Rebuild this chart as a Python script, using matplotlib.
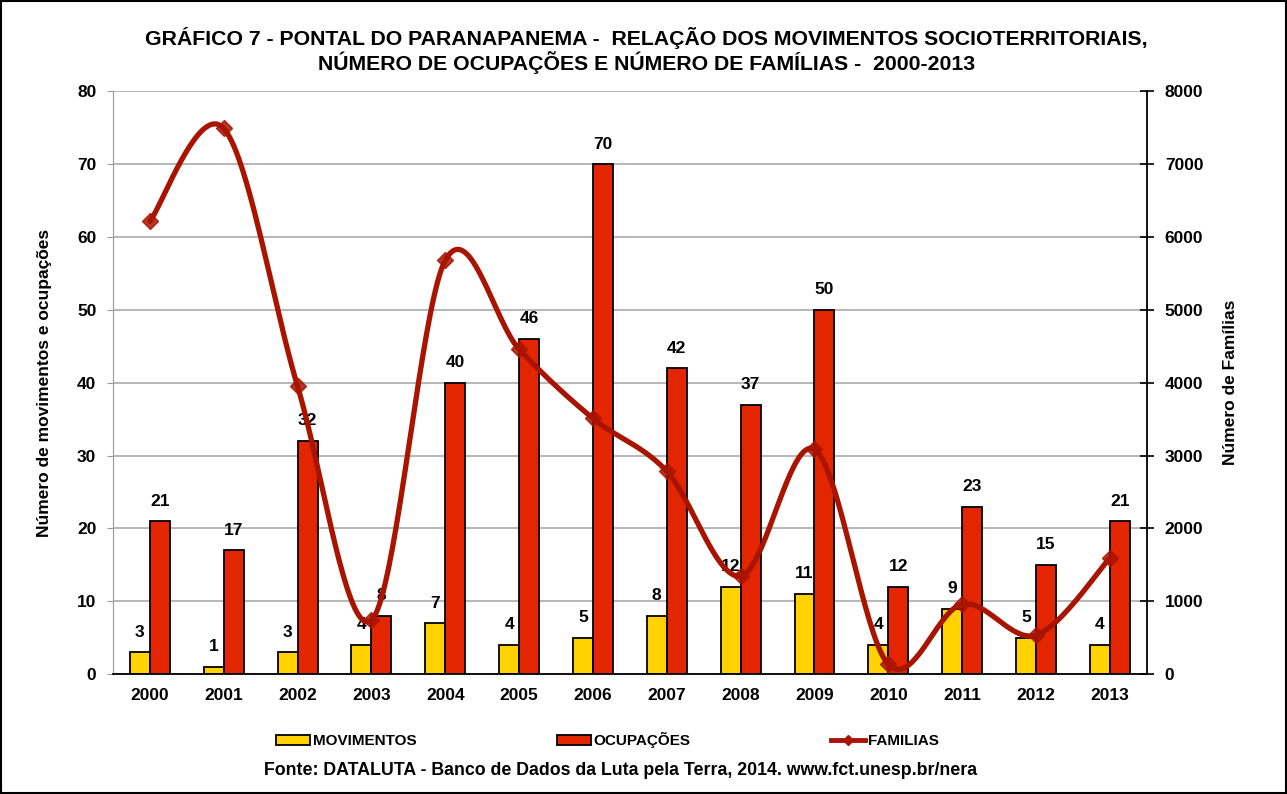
import numpy as np
import matplotlib
matplotlib.use('Agg')
import matplotlib.pyplot as plt
from matplotlib.patches import Rectangle
from matplotlib.lines import Line2D
from matplotlib.patches import Patch

plt.rcParams['font.family'] = ['Liberation Sans', 'DejaVu Sans']
plt.rcParams['font.weight'] = 'bold'

# data
anos = ['2000', '2001', '2002', '2003', '2004', '2005', '2006',
        '2007', '2008', '2009', '2010', '2011', '2012', '2013']
movimentos = [3, 1, 3, 4, 7, 4, 5, 8, 12, 11, 4, 9, 5, 4]
ocupacoes = [21, 17, 32, 8, 40, 46, 70, 42, 37, 50, 12, 23, 15, 21]
familias = [6216, 7490, 3950, 740, 5680, 4460, 3510, 2785, 1345, 3085, 135, 960, 535, 1590]

COR_MOV = '#FFD200'
COR_OCU = '#E32500'
COR_FAM = '#A81400'


def suaviza(x, y, n=40):
    # curva tipo Excel (Catmull-Rom)
    x = np.asarray(x, float)
    y = np.asarray(y, float)
    px = np.concatenate([[x[0]], x, [x[-1]]])
    py = np.concatenate([[y[0]], y, [y[-1]]])
    xs, ys = [], []
    t = np.linspace(0, 1, n)
    for i in range(1, len(px) - 2):
        p0 = np.array([px[i], py[i]])
        p3 = np.array([px[i + 1], py[i + 1]])
        c1 = p0 + (np.array([px[i + 1], py[i + 1]]) - np.array([px[i - 1], py[i - 1]])) / 6
        c2 = p3 - (np.array([px[i + 2], py[i + 2]]) - np.array([px[i], py[i]])) / 6
        b = ((1 - t) ** 3)[:, None] * p0 + (3 * (1 - t) ** 2 * t)[:, None] * c1 \
            + (3 * (1 - t) * t ** 2)[:, None] * c2 + (t ** 3)[:, None] * p3
        xs.extend(b[:, 0])
        ys.extend(b[:, 1])
    return np.array(xs), np.array(ys)


fig = plt.figure(figsize=(12.87, 7.94), dpi=100)
ax = fig.add_axes([0.0878, 0.151, 0.8032, 0.734])

x = np.arange(len(anos))
w = 0.27
b1 = ax.bar(x - w / 2, movimentos, w, color=COR_MOV, edgecolor='black', linewidth=1.3, zorder=2)
b2 = ax.bar(x + w / 2, ocupacoes, w, color=COR_OCU, edgecolor='black', linewidth=1.3, zorder=2)

for bars in (b1, b2):
    for b in bars:
        ax.annotate(f'{int(b.get_height())}', (b.get_x() + b.get_width() / 2, b.get_height()),
                    xytext=(0, 9), textcoords='offset points', ha='center', va='bottom',
                    fontsize=12.5, fontweight='bold', zorder=5)

ax.set_xlim(-0.5, len(anos) - 0.5)
ax.set_ylim(0, 80)
ax.set_yticks(range(0, 81, 10))
ax.set_xticks(x)
ax.set_xticklabels(anos)
ax.tick_params(axis='x', length=0, labelsize=12.5, pad=10)
ax.tick_params(axis='y', labelsize=12.5, color='#999999', length=4, pad=8)
ax.grid(axis='y', color='#aaaaaa', linewidth=1.2, zorder=0)
ax.set_axisbelow(True)
ax.spines['top'].set_visible(False)
ax.spines['right'].set_visible(False)
ax.spines['left'].set_color('#999999')
ax.spines['bottom'].set_linewidth(1.3)
ax.set_ylabel('Número de movimentos e ocupações', fontsize=12.5, fontweight='bold', labelpad=18)

ax2 = ax.twinx()
ax2.set_ylim(0, 8000)
ax2.set_yticks(range(0, 8001, 1000))
ax2.tick_params(axis='y', labelsize=12.5, direction='inout', length=10, width=1.2, pad=8)
for s in ('top', 'left', 'bottom'):
    ax2.spines[s].set_visible(False)
ax2.spines['right'].set_linewidth(1.3)
ax2.set_ylabel('Número de Famílias', fontsize=12.5, fontweight='bold', labelpad=14)

sx, sy = suaviza(x, familias)
ax2.plot(sx, sy, color=COR_FAM, linewidth=3.8, solid_capstyle='round', zorder=4)
ax2.plot(x, familias, linestyle='none', marker='D', markersize=8, color=COR_FAM,
         markeredgecolor=COR_FAM, alpha=0.85, zorder=4)

fig.text(0.502, 0.952, 'GRÁFICO 7 - PONTAL DO PARANAPANEMA -  RELAÇÃO DOS MOVIMENTOS SOCIOTERRITORIAIS,',
         ha='center', va='center', fontsize=15.3, fontweight='bold')
fig.text(0.502, 0.921, 'NÚMERO DE OCUPAÇÕES E NÚMERO DE FAMÍLIAS -  2000-2013',
         ha='center', va='center', fontsize=15.3, fontweight='bold')

handles = [Patch(facecolor=COR_MOV, edgecolor='black', linewidth=1.3),
           Patch(facecolor=COR_OCU, edgecolor='black', linewidth=1.3),
           Line2D([0], [0], color=COR_FAM, linewidth=3.5, marker='D', markersize=5)]
fig.legend(handles, ['MOVIMENTOS', 'OCUPAÇÕES', 'FAMILIAS'], loc='center',
           bbox_to_anchor=(0.472, 0.068), ncol=3, frameon=False,
           handlelength=2.2, handleheight=0.6, handletextpad=0.2, columnspacing=9.2,
           prop={'weight': 'bold', 'size': 11})

fig.text(0.482, 0.030, 'Fonte: DATALUTA - Banco de Dados da Luta pela Terra, 2014. www.fct.unesp.br/nera',
         ha='center', va='center', fontsize=12.8, fontweight='bold')

fig.add_artist(Rectangle((0.001, 0.001), 0.998, 0.998, transform=fig.transFigure,
                         fill=False, edgecolor='black', linewidth=1.5))

fig.savefig('out.png', dpi=100)
